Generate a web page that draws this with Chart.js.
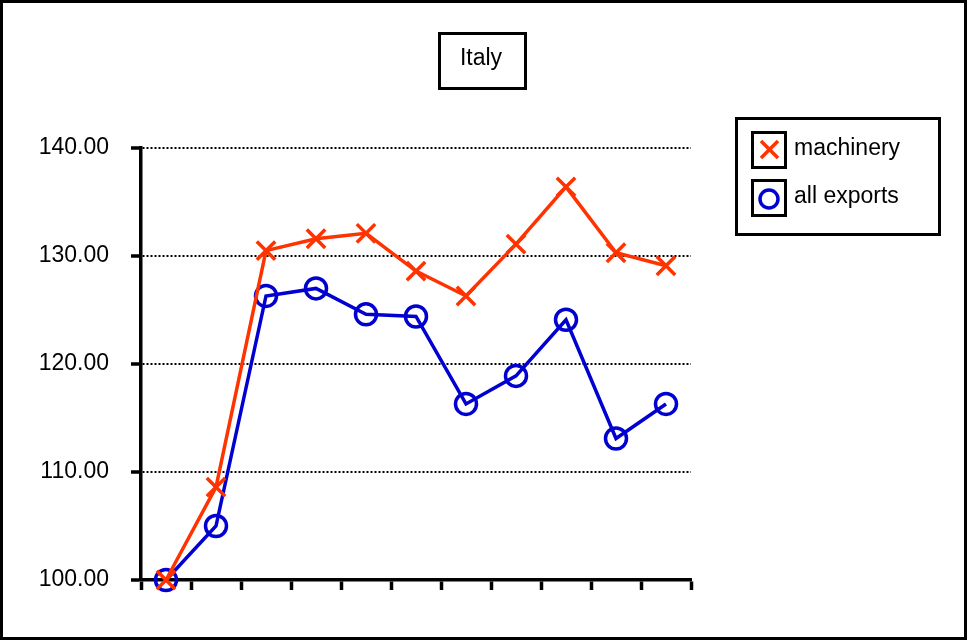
<!DOCTYPE html>
<html>
<head>
<meta charset="utf-8">
<script src="https://cdn.jsdelivr.net/npm/chart.js@4/dist/chart.umd.min.js"></script>
<style>
  body { margin: 0; background: #fff; }
  #wrap { width: 969px; height: 641px; position: relative; }
</style>
</head>
<body>
<div id="wrap"><canvas id="italyChart"></canvas></div>
<script>
const chartTitle = "Italy";
const periods = ["1", "2", "3", "4", "5", "6", "7", "8", "9", "10", "11"];
const machinery = [100.0, 108.6, 130.5, 131.6, 132.1, 128.6, 126.3, 131.1, 136.4, 130.3, 129.1];
const allExports = [100.0, 105.0, 126.3, 127.0, 124.6, 124.4, 116.3, 118.9, 124.1, 113.1, 116.3];
const yTicks = [100, 110, 120, 130, 140];

const red = "#ff3300";
const blue = "#0000d0";
const font = "Liberation Sans, Arial, Helvetica, sans-serif";

// boxes for the title, the legend and the outer frame
const boxesPlugin = {
  id: "boxes",
  afterDraw(chart) {
    const ctx = chart.ctx;
    ctx.save();
    ctx.strokeStyle = "#000";
    ctx.lineWidth = 3;
    ctx.strokeRect(1.5, 1.5, 964, 637);

    // title
    ctx.strokeRect(439.5, 33.5, 86, 55);
    ctx.fillStyle = "#000";
    ctx.font = "23px " + font;
    ctx.textAlign = "center";
    ctx.textBaseline = "middle";
    ctx.fillText(chartTitle, 481, 59);

    // legend
    ctx.strokeRect(736.5, 118.5, 203, 116);
    ctx.textAlign = "left";
    chart.data.datasets.forEach((ds, i) => {
      const y = 150 + i * 48;
      ctx.lineWidth = 3;
      ctx.strokeStyle = "#000";
      ctx.strokeRect(752.5, y - 17.5, 33, 35);
      ctx.strokeStyle = ds.borderColor;
      ctx.lineWidth = 3.5;
      ctx.beginPath();
      if (ds.pointStyle === "crossRot") {
        ctx.moveTo(761, y - 9); ctx.lineTo(778, y + 8);
        ctx.moveTo(778, y - 9); ctx.lineTo(761, y + 8);
      } else {
        ctx.arc(769, y + 1, 9, 0, Math.PI * 2);
      }
      ctx.stroke();
      ctx.fillStyle = "#000";
      ctx.fillText(ds.label, 794, y - 1);
    });
    ctx.restore();
  }
};

new Chart(document.getElementById("italyChart"), {
  type: "line",
  data: {
    labels: periods,
    datasets: [
      {
        label: "machinery",
        data: machinery,
        borderColor: red,
        backgroundColor: red,
        borderWidth: 3.5,
        pointStyle: "crossRot",
        pointRadius: 13,
        pointBorderWidth: 3.5,
        tension: 0,
        clip: false
      },
      {
        label: "all exports",
        data: allExports,
        borderColor: blue,
        backgroundColor: "rgba(0,0,0,0)",
        borderWidth: 3.5,
        pointStyle: "circle",
        pointRadius: 10.5,
        pointBorderWidth: 3.5,
        tension: 0,
        clip: false
      }
    ]
  },
  options: {
    responsive: true,
    maintainAspectRatio: false,
    animation: false,
    layout: { padding: { left: 0, top: 148, right: 278, bottom: 0 } },
    plugins: {
      legend: { display: false },
      title: { display: false },
      tooltip: { enabled: false }
    },
    scales: {
      x: {
        type: "category",
        offset: true,
        grid: {
          offset: true,
          drawOnChartArea: false,
          tickLength: 10,
          tickWidth: 3.5,
          tickColor: "#000"
        },
        border: { color: "#000", width: 3.5 },
        ticks: { display: false },
        afterFit(scale) { scale.height = 61; }
      },
      y: {
        min: 100,
        max: 140,
        afterBuildTicks(scale) {
          scale.ticks = yTicks.map(v => ({ value: v }));
        },
        grid: {
          color: "#000",
          lineWidth: 2,
          tickLength: 10,
          tickWidth: 3.5,
          tickColor: "#000",
          tickBorderDash: []
        },
        border: { color: "#000", width: 3.5, dash: [2, 2] },
        ticks: {
          padding: 22,
          color: "#000",
          font: { family: font, size: 23 },
          callback: v => v.toFixed(2)
        },
        afterFit(scale) { scale.width = 141; }
      }
    }
  },
  plugins: [boxesPlugin]
});
</script>
</body>
</html>
